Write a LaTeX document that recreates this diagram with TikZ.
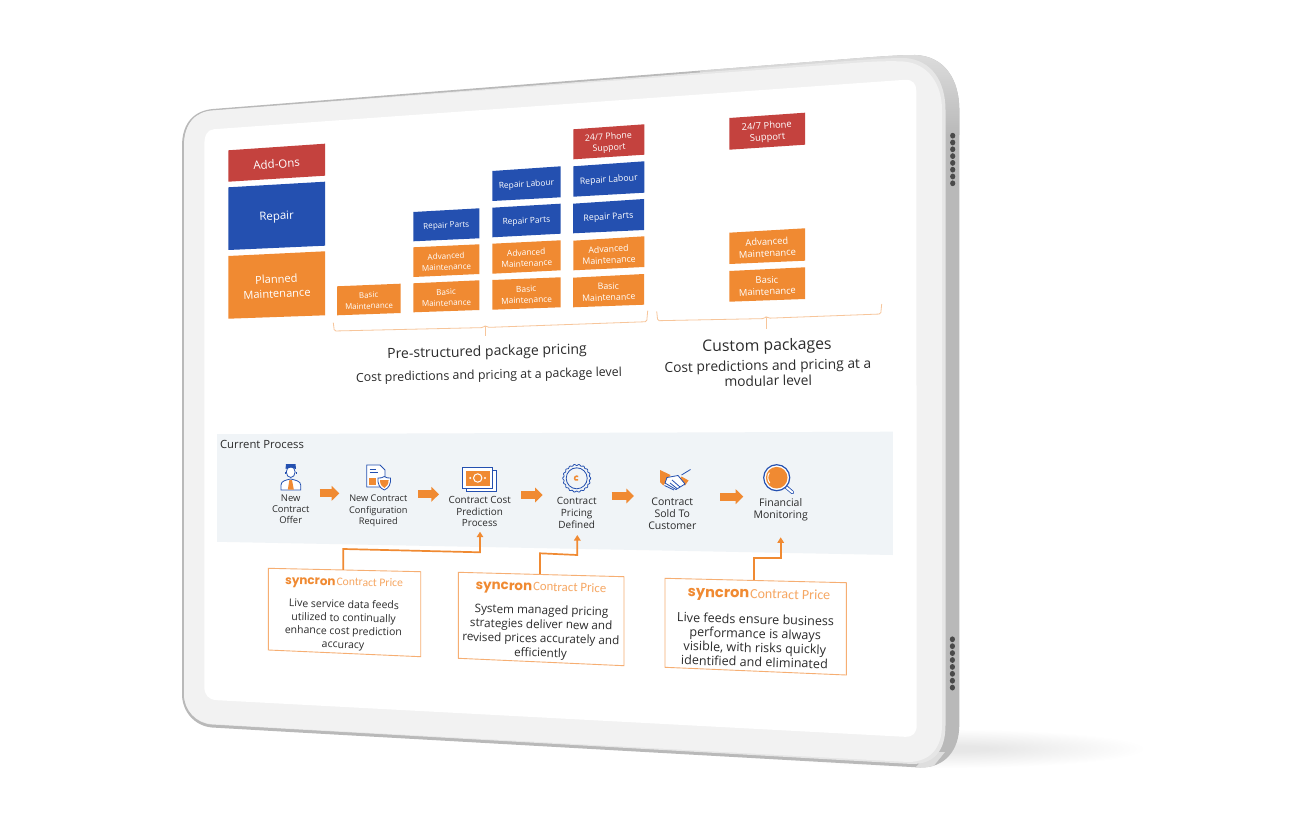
\documentclass[tikz,border=0pt]{standalone}
\usepackage{fontspec}
\setmainfont{Open Sans}
\newfontfamily\logofont{Poppins}
\newfontfamily\cpfont{Carlito}
\usetikzlibrary{arrows.meta,calc}
\definecolor{tred}{HTML}{C4423E}
\definecolor{tblue}{HTML}{2450B0}
\definecolor{torange}{HTML}{F08A32}
\definecolor{tline}{HTML}{F7C59A}
\definecolor{tcall}{HTML}{F6AE72}
\definecolor{tband}{HTML}{F0F4F7}
\definecolor{tink}{HTML}{2B2B2B}
\definecolor{tcp}{HTML}{F6A763}
\definecolor{tbody}{HTML}{B9B9B9}
\definecolor{ttop}{HTML}{DEDEDE}
\definecolor{trim}{HTML}{E6E6E6}
\definecolor{tface}{HTML}{F2F2F2}
\definecolor{tdot}{HTML}{4A4A4A}
\tikzset{
  x=1pt,y=-1pt,
  redtile/.style={fill=tred},
  bluetile/.style={fill=tblue},
  orangetile/.style={fill=torange},
  tiletext/.style={text=white,align=center,inner sep=0pt},
  fsa/.style={font=\fontsize{11.5}{14}\selectfont},
  fsb/.style={font=\fontsize{7.9}{11}\selectfont},
  fsc/.style={font=\fontsize{8.1}{11}\selectfont},
  fsd/.style={font=\fontsize{8.4}{11}\selectfont},
  fse/.style={font=\fontsize{8.8}{11.2}\selectfont},
  fsf/.style={font=\fontsize{9.4}{11.5}\selectfont},
  fsg/.style={font=\fontsize{11.1}{14.5}\selectfont},
  steplabel/.style={text=tink,align=center,inner sep=0pt},
  caption/.style={text=tink,align=center,inner sep=0pt},
  flow/.style={torange,line width=7.7pt,-{Triangle[length=7.6pt,width=14.5pt]}},
  feed/.style={torange,line width=1.7pt,line join=miter,-{Triangle[length=5.5pt,width=6.5pt]}},
  brace/.style={draw=tline,line width=0.8pt,rounded corners=1.5pt},
  callbox/.style={fill=white,draw=tcall,line width=0.9pt},
  iconline/.style={draw=tblue,line width=0.8pt},
}
\newcommand\pb[9]{%
  \fill[#2] (#3,#5) -- (#4,#6) -- (#4,#7) -- (#3,#8) -- cycle;
  \pgfmathsetmacro\pbx{(#3+#4)/2}%
  \pgfmathsetmacro\pby{(#5+#6+#7+#8)/4+1}%
  \pgfmathsetmacro\pba{atan(((#5-#6)+(#8-#7))/2/(#4-#3))}%
  \node[tiletext,rotate=\pba,#1] at (\pbx,\pby) {#9};}
\newcommand\logo[2]{{\logofont\bfseries\fontsize{#1}{#1}\selectfont syncron}\hspace{1pt}{\cpfont\color{tcp}\fontsize{#2}{#2}\selectfont Contract Price}}
\newcommand\bodypath{(182,146) .. controls (182,122) and (195,110.5) .. (213,109) -- (860,58)
  .. controls (880,56.5) and (900,55) .. (915,55)
  .. controls (945,56) and (959.3,80) .. (959.3,110) -- (959.3,725)
  .. controls (959.3,750) and (945,768) .. (920,767.5) -- (290,732) -- (212,727.5)
  .. controls (195,726) and (182,712) .. (182,694) -- cycle}
\begin{document}
\begin{tikzpicture}
\useasboundingbox (0,0) rectangle (1300,834);
\fill[white] (0,0) rectangle (1300,834);
% shadow
\foreach \i in {1,...,24}{
  \fill[black,opacity=0.0035] (945+\i*0.5,749) ellipse [x radius={205-\i*7},y radius={20-\i*0.7}];
}
% tablet body
\fill[tbody] \bodypath;
\begin{scope}
  \clip \bodypath;
  \shade[top color=ttop,bottom color=tbody] (700,50) rectangle (965,135);
  \fill[ttop] (915,768) -- (932,768) -- (945,752) -- (930,752) -- cycle;
\end{scope}
\fill[trim] (184,146) .. controls (184,123) and (196,111.5) .. (213,110.5) -- (860,60)
  .. controls (880,58.5) and (895,58) .. (905,58)
  .. controls (932,60) and (945.5,82) .. (945.5,110) -- (945.5,725)
  .. controls (945.5,750) and (935,764) .. (912,764) -- (290,729) -- (212,724.5)
  .. controls (196,723.5) and (184,710) .. (184,694) -- cycle;
\fill[tface] (184,146) .. controls (184,123) and (196,111.5) .. (213,110.5) -- (860,62.5)
  .. controls (880,61) and (895,61) .. (903,61.5)
  .. controls (928,63) and (942,84) .. (942,110) -- (942,725)
  .. controls (942,748) and (930,762) .. (908,762) -- (290,728.5) -- (212,724)
  .. controls (196,723) and (184,710) .. (184,694) -- cycle;
% screen
\fill[white] (204.3,146) .. controls (204.3,135) and (207,130) .. (214,129.2) -- (905,79.8)
  .. controls (913,79.5) and (916.3,84) .. (916.3,91) -- (916.7,725)
  .. controls (916.7,733) and (913,737) .. (905,736.8) -- (217,700.2)
  .. controls (208,699.5) and (204.3,695) .. (204.3,686) -- cycle;
% speaker dots
\foreach \i in {0,...,7}{
  \fill[tdot] (952.7,135.7+\i*6.8) ellipse [x radius=2.6,y radius=2.9];
  \fill[tdot] (952.4,639.3+\i*6.9) ellipse [x radius=2.6,y radius=2.9];
}
% tiles: left legend
\pb{name=addons,fsa}{redtile}{228.3}{325}{150.3}{143.7}{175.7}{181.7}{Add-Ons}
\pb{name=repair,fsa}{bluetile}{228.3}{325}{187.3}{181.7}{245.7}{250}{Repair}
\pb{name=planned,fsg}{orangetile}{228.3}{325}{256}{251.3}{315.3}{318.7}{Planned\\Maintenance}
% col 1
\pb{name=c1b,fsb}{orangetile}{337}{400.7}{286.3}{283.7}{313}{315.3}{Basic\\Maintenance}
% col 2
\pb{name=c2p,fsc}{bluetile}{413.3}{479.3}{212}{208.3}{238.3}{241.3}{Repair Parts}
\pb{name=c2a,fsc}{orangetile}{413.3}{479.3}{247.3}{244.3}{274}{277}{Advanced\\Maintenance}
\pb{name=c2b,fsc}{orangetile}{413.3}{479.3}{283.3}{280.3}{310}{312.3}{Basic\\Maintenance}
% col 3
\pb{name=c3l,fsd}{bluetile}{492.3}{560.7}{171}{166.3}{197.3}{201}{Repair Labour}
\pb{name=c3p,fsd}{bluetile}{492.3}{560.5}{207.7}{203.7}{233.7}{237.3}{Repair Parts}
\pb{name=c3a,fsd}{orangetile}{492.3}{560.7}{243.7}{240.3}{270.3}{273.7}{Advanced\\Maintenance}
\pb{name=c3b,fsd}{orangetile}{492.3}{560.5}{280}{277.3}{307.3}{309.7}{Basic\\Maintenance}
% col 4
\pb{name=c4s,fse}{redtile}{573.3}{644.3}{129.3}{124.3}{154.7}{159.3}{24/7 Phone\\Support}
\pb{name=c4l,fse}{bluetile}{573.3}{644.3}{166.3}{161.3}{192.7}{196.7}{Repair Labour}
\pb{name=c4p,fse}{bluetile}{573}{644}{203.7}{199}{230}{233.3}{Repair Parts}
\pb{name=c4a,fse}{orangetile}{573.3}{644.3}{240.7}{236.3}{267}{270.3}{Advanced\\Maintenance}
\pb{name=c4b,fse}{orangetile}{573}{644}{277.7}{274}{304.7}{307.3}{Basic\\Maintenance}
% custom
\pb{name=c5s,fsf}{redtile}{729.3}{805}{118}{112.7}{144.7}{149.7}{24/7 Phone\\Support}
\pb{name=c5a,fsf}{orangetile}{729.3}{805}{232.7}{228.3}{260.7}{264}{Advanced\\Maintenance}
\pb{name=c5b,fsf}{orangetile}{729.3}{805}{271}{267.3}{299}{301.7}{Basic\\Maintenance}
% braces
\draw[brace] (333.3,322.7) -- (334.3,331) -- (483,327.6) -- (485.3,325.5) -- (487.5,327.4) -- (646.7,321.7) -- (647.7,310.7);
\draw[tline,line width=0.8pt] (485.3,325.5) -- (485.3,336);
\draw[brace] (656.7,311.3) -- (657.7,320.7) -- (764,318.6) -- (766.3,316.5) -- (768.5,318.2) -- (880.7,314) -- (881.7,304);
\draw[tline,line width=0.8pt] (766.3,316.5) -- (766.3,328.7);
% captions
\node[caption,rotate=1.4,font=\fontsize{14}{17}\selectfont] (capa) at (487,352.5) {Pre-structured package pricing};
\node[caption,rotate=1.2,font=\fontsize{12.4}{15}\selectfont] (capb) at (489,376) {Cost predictions and pricing at a package level};
\node[caption,rotate=1.2,font=\fontsize{15.8}{18}\selectfont] (capc) at (767,346.5) {Custom packages};
\node[caption,rotate=1.2,font=\fontsize{13.8}{15.5}\selectfont] (capd) at (768,373) {Cost predictions and pricing at a\\modular level};
% process band
\fill[tband] (217,434.2) -- (892.8,431.7) -- (892.8,555) -- (217,541.8) -- cycle;
\node[text=tink,inner sep=0pt,font=\fontsize{11.3}{13}\selectfont] (cur) at (262,444.5) {Current Process};
% labels
\node[steplabel,font=\fontsize{9.4}{11.2}\selectfont] (s1) at (290.7,509.4) {New\\Contract\\Offer};
\node[steplabel,font=\fontsize{9.2}{11.3}\selectfont] (s2) at (378.3,510.8) {New Contract\\Configuration\\Required};
\node[steplabel,font=\fontsize{9.9}{11.5}\selectfont] (s3) at (479.7,511.9) {Contract Cost\\Prediction\\Process};
\node[steplabel,font=\fontsize{10}{11.8}\selectfont] (s4) at (576.7,513) {Contract\\Pricing\\Defined};
\node[steplabel,font=\fontsize{10.5}{12.1}\selectfont] (s5) at (672.3,514) {Contract\\Sold To\\Customer};
\node[steplabel,font=\fontsize{10.5}{12.1}\selectfont] (s6) at (780.7,509.5) {Financial\\Monitoring};
% flow arrows
\coordinate (a1s) at (319.7,493.3); \coordinate (a1e) at (339.3,493.3);
\coordinate (a2s) at (418.3,494.3); \coordinate (a2e) at (439,494.3);
\coordinate (a3s) at (521.3,495);   \coordinate (a3e) at (542.7,495);
\coordinate (a4s) at (611.7,496);   \coordinate (a4e) at (634,496);
\coordinate (a5s) at (720,496.7);   \coordinate (a5e) at (743.3,496.7);
\draw[flow] (a1s) -- (a1e);
\draw[flow] (a2s) -- (a2e);
\draw[flow] (a3s) -- (a3e);
\draw[flow] (a4s) -- (a4e);
\draw[flow] (a5s) -- (a5e);
% icon person
\draw[iconline,fill=white] (281,490) -- (281,485) .. controls (281,481) and (286,480) .. (290.7,479) .. controls (295,480) and (300.7,481) .. (300.7,485) -- (300.7,490) -- cycle;
\fill[torange] (289.4,480) -- (292,480) -- (293.8,489.5) -- (287.8,489.5) -- cycle;
\draw[iconline,fill=white] (290.7,472) ellipse [x radius=4.4,y radius=5.5];
\fill[tblue] (285.5,469) -- (286,464) -- (295.5,464) -- (296,469) -- (291,467.5) -- cycle;
\draw[iconline] (285.3,472) -- (285.3,474) (296.1,472) -- (296.1,474);
% icon doc
\draw[iconline,fill=white] (366.7,465) -- (380,465) -- (385,470) -- (385,487) -- (366.7,487) -- cycle;
\draw[iconline] (369.5,469.5) -- (376,469.5) (369.5,472.5) -- (378,472.5);
\fill[torange] (369,478) rectangle (376,484.5);
\draw[iconline,fill=white] (384.3,476.5) .. controls (386,478) and (388,478) .. (390.5,478) .. controls (391,484) and (389,488) .. (384.3,490) .. controls (379.5,488) and (377.5,484) .. (378,478) .. controls (380.5,478) and (382.5,478) .. (384.3,476.5) -- cycle;
\fill[torange] (380,480) -- (388.6,480) .. controls (388.6,484) and (387,486.5) .. (384.3,488) .. controls (381.5,486.5) and (380,484) .. (380,480) -- cycle;
% icon money
\draw[iconline,fill=white] (466.5,470) rectangle (496.7,491.7);
\draw[iconline,line width=1pt,fill=white] (462.7,467.7) rectangle (492.7,488.3);
\fill[torange] (465.5,470.5) rectangle (490,485.6);
\draw[white,line width=1pt] (477.7,478) circle [radius=4.2];
\fill[white] (470.3,478) circle [radius=1.1] (485,478) circle [radius=1.1];
% icon seal
\draw[iconline] plot[domain=0:360,samples=145,smooth] ({576.7+(13.4+0.6*cos(18*\x))*cos(\x)},{478.3+(13.4+0.6*cos(18*\x))*sin(\x)});
\draw[iconline] (576.7,478.3) circle [radius=10.5];
\draw[torange,line width=1.5pt] (578.2,476.6) arc [start angle=-50,end angle=-310,radius=2.2];
% icon handshake
\fill[torange] (660,470) -- (670.5,475) -- (663.3,485.5) -- (660,482) -- cycle;
\fill[torange] (681.5,476.5) -- (688.5,480.5) -- (685,485.5) -- (678,481) -- cycle;
\draw[iconline,fill=white] (667,477.5) -- (678,475.5) -- (685,484) -- (676,489.5) -- (665,483) -- cycle;
\draw[iconline] (681.5,475) -- (690.5,469.5) (664.5,485.5) -- (674,490) (672,480) -- (680,487) (670,483) -- (677,488.5);
% icon magnifier
\draw[tblue,line width=3.6pt,line cap=round] (785,486) -- (792.5,492.5);
\draw[white,line width=2pt,line cap=round] (786,487) -- (792.5,492.5);
\draw[iconline,line width=1.2pt,fill=white] (776.7,477.7) circle [radius=13];
\fill[torange] (776.7,477.7) circle [radius=10.8];
\draw[white,line width=1pt] (769.8,483) arc [start angle=140,end angle=215,radius=8.5];
% call-outs
\fill[callbox] (268.3,568.3) -- (420.7,571.7) -- (420.7,656.7) -- (268.3,650) -- cycle;
\fill[callbox] (458.3,572.3) -- (624,576.7) -- (624,665.7) -- (458.3,658.3) -- cycle;
\fill[callbox] (665,578.3) -- (846.3,582.7) -- (846.3,675) -- (665,667.3) -- cycle;
\node[inner sep=0pt,minimum width=152pt,minimum height=83pt] (cb1) at (343.3,611.5) {};
\node[inner sep=0pt,minimum width=165pt,minimum height=83pt] (cb2) at (540,615.5) {};
\node[inner sep=0pt,minimum width=181pt,minimum height=90pt] (cb3) at (754,625) {};
\node[text=torange,inner sep=0pt,rotate=-1.3] (lg1) at (344,583.2) {\logo{12}{11.6}};
\node[text=torange,inner sep=0pt,rotate=-1.4] (lg2) at (541,588.2) {\logo{13.4}{12.8}};
\node[text=torange,inner sep=0pt,rotate=-1.4] (lg3) at (759,595.5) {\logo{14.6}{14}};
\node[text=tink,align=center,inner sep=0pt,rotate=-1.3,font=\fontsize{10.5}{13.4}\selectfont] (tx1) at (343.5,625.3) {Live service data feeds\\utilized to continually\\enhance cost prediction\\accuracy};
\node[text=tink,align=center,inner sep=0pt,rotate=-1.4,font=\fontsize{11.7}{14.3}\selectfont] (tx2) at (541,632.5) {System managed pricing\\strategies deliver new and\\revised prices accurately and\\efficiently};
\node[text=tink,align=center,inner sep=0pt,rotate=-1.6,font=\fontsize{12.6}{14.2}\selectfont] (tx3) at (755,640.5) {Live feeds ensure business\\performance is always\\visible, with risks quickly\\identified and eliminated};
% feed connectors
\coordinate (t3) at (480,531.7);
\coordinate (t4) at (577.3,535);
\coordinate (t6) at (780.7,537.3);
\draw[feed] (cb1.north) -- (343.3,549) -- (480,552.3) -- (t3);
\draw[feed] (cb2.north) -- (540,553.3) -- (577.3,555) -- (t4);
\draw[feed] (cb3.north) -- (754,558.3) -- (780.7,558.3) -- (t6);
\end{tikzpicture}
\end{document}
